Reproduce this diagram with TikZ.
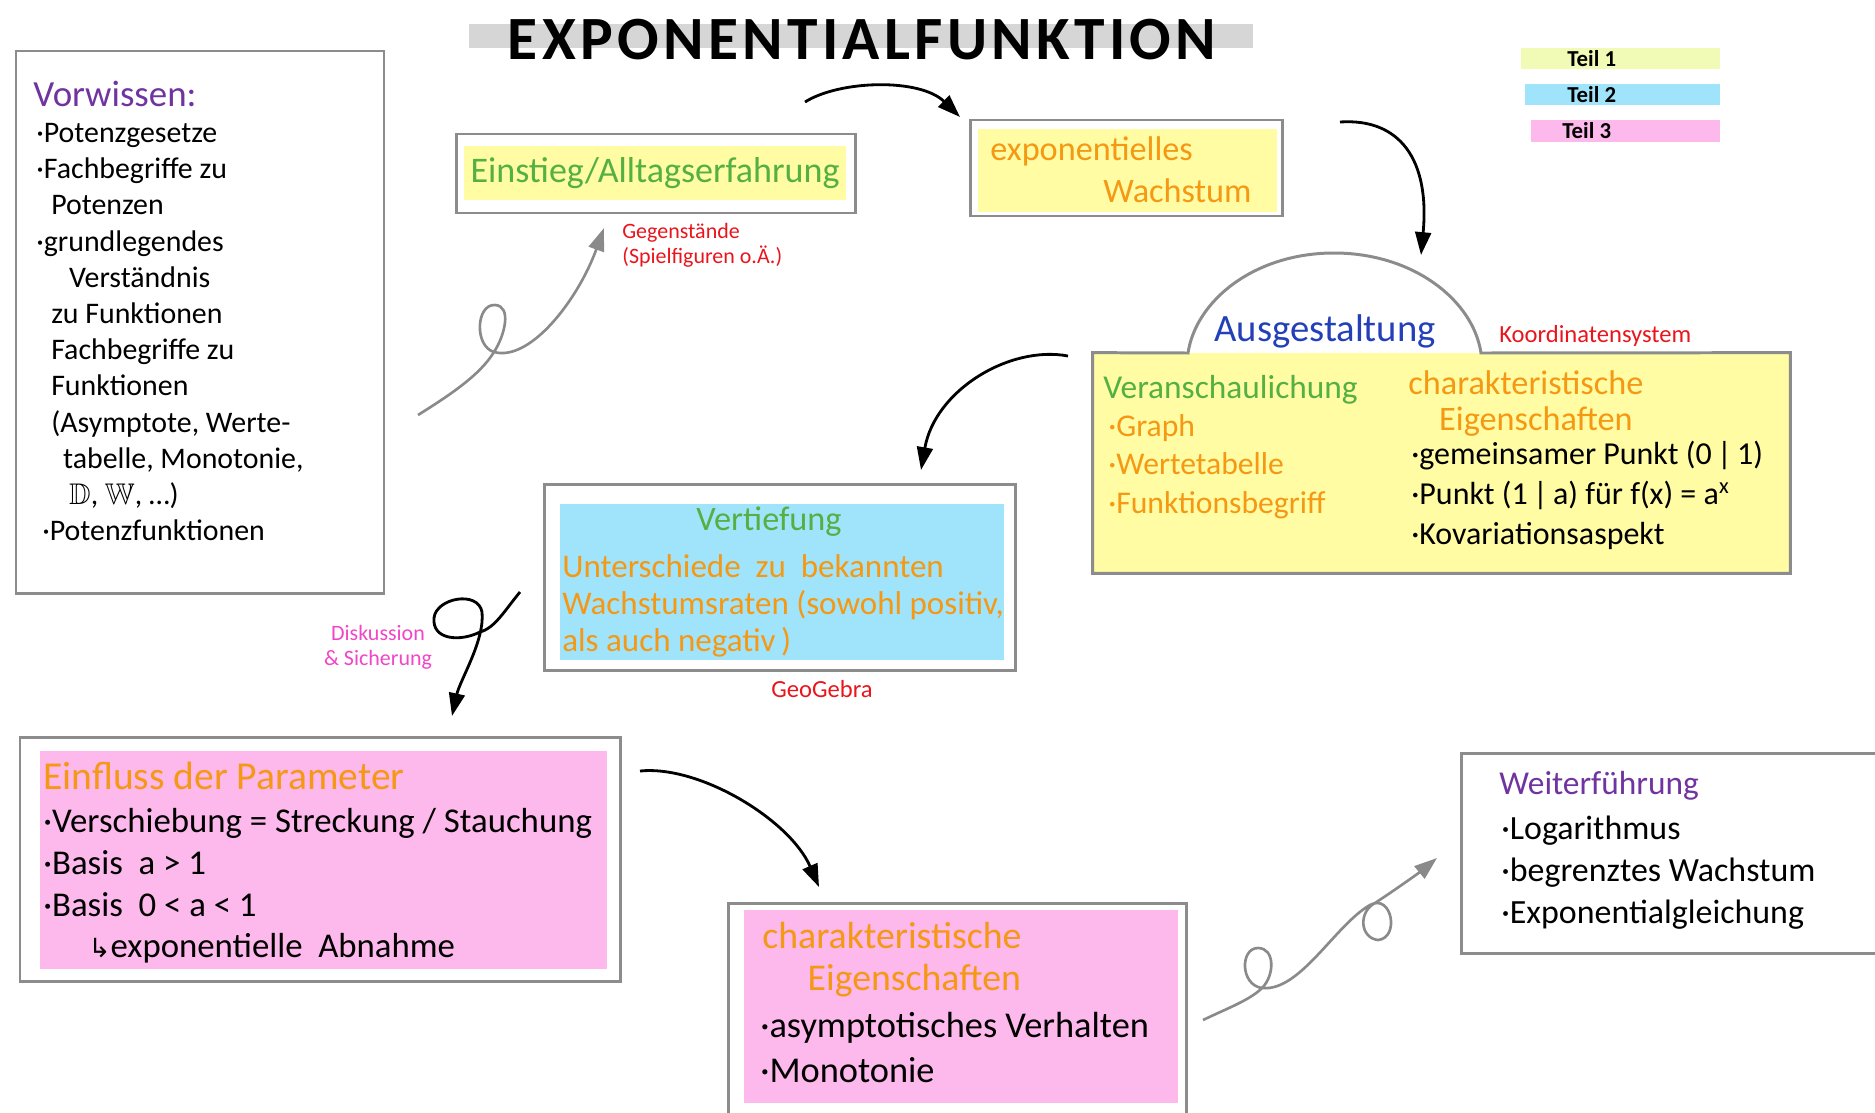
\documentclass[tikz,border=0pt]{standalone}
\usepackage{fontspec}
\usepackage{amssymb}
\setmainfont{Carlito}
\newfontfamily\arrowfont{DejaVu Sans}
\usetikzlibrary{arrows.meta, fit}

\definecolor{framegray}{RGB}{140,140,140}
\definecolor{bargray}{RGB}{214,214,214}
\definecolor{arrowgray}{RGB}{138,138,138}
\definecolor{paleyellow}{RGB}{255,252,164}
\definecolor{limeyellow}{RGB}{241,251,182}
\definecolor{paleblue}{RGB}{160,228,252}
\definecolor{palepink}{RGB}{253,184,236}
\definecolor{hworange}{RGB}{245,152,20}
\definecolor{hwgreen}{RGB}{84,176,66}
\definecolor{hwpurple}{RGB}{112,52,160}
\definecolor{hwblue}{RGB}{36,64,184}
\definecolor{hwred}{RGB}{234,20,28}
\definecolor{hwpink}{RGB}{240,70,200}

\newcommand{\fs}[2]{\fontsize{#1}{#2}\selectfont}

\begin{document}
\begin{tikzpicture}[x=0.02cm, y=-0.02cm,
    frame/.style={draw=framegray, line width=1.7pt, inner sep=0pt},
    patch/.style={inner sep=0pt},
    txt/.style={inner sep=0pt, anchor=west},
    lst/.style={inner sep=0pt, anchor=north west, align=left},
    blackarrow/.style={line width=1.6pt, -{Triangle[length=13pt, width=9pt]}},
    grayarrow/.style={draw=arrowgray, line width=1.5pt, -{Triangle[length=13pt, width=9pt]}}]
        \useasboundingbox (0,0) rectangle (1875,1112);

        % Title
        \node[patch, fill=bargray, fit={(469,24) (1253,48)}] (titlebar) {};
        \node[font=\fs{35}{40}\bfseries\addfontfeature{LetterSpace=7}] (title) at (862,40) {EXPONENTIALFUNKTION};

        % Legend
        \node[patch, fill=limeyellow, fit={(1521,48) (1720,69)}] (teilA) {};
        \node[patch, fill=paleblue, fit={(1525,84) (1720,105)}] (teilB) {};
        \node[patch, fill=palepink, fit={(1531,120) (1720,142)}] (teilC) {};
        \node[txt, font=\fs{13}{15}\bfseries] (teilAtxt) at (1567,59) {Teil 1};
        \node[txt, font=\fs{13}{15}\bfseries] (teilBtxt) at (1567,95) {Teil 2};
        \node[txt, font=\fs{13}{15}\bfseries] (teilCtxt) at (1562,131) {Teil 3};

        % Vorwissen
        \node[frame, fit={(16,51) (384,593)}] (vorwissen) {};
        \node[txt, font=\fs{21}{24}, text=hwpurple] (vorwHead) at (33,94) {Vorwissen:};
        \node[lst, font=\fs{17}{20.6}] (vorwList) at (36,123) {%
            ·Potenzgesetze\\
            ·Fachbegriffe zu\\
            \hspace*{0.5em}Potenzen\\
            ·grundlegendes\\
            \hspace*{1.1em}Verständnis\\
            \hspace*{0.5em}zu Funktionen\\
            \hspace*{0.5em}Fachbegriffe zu\\
            \hspace*{0.5em}Funktionen\\
            \hspace*{0.5em}(Asymptote, Werte-\\
            \hspace*{0.9em}tabelle, Monotonie,\\
            \hspace*{1.1em}$\mathbb{D}$, $\mathbb{W}$, \dots)\\
            \hspace*{0.2em}·Potenzfunktionen};

        % Einstieg
        \node[frame, fit={(456,134) (855,213)}] (einstieg) {};
        \node[patch, fill=paleyellow, fit={(464,146) (846,200)}] (einstiegIn) {};
        \node[font=\fs{20.5}{24}, text=hwgreen, inner sep=0pt] (einstiegTxt) at (655,173) {Einstieg/Alltagserfahrung};
        \node[lst, anchor=west, font=\fs{12.5}{14.5}, text=hwred] (gegen) at (622,245) {Gegenstände\\(Spielfiguren o.Ä.)};

        % exponentielles Wachstum
        \node[frame, fit={(970,120) (1282,216)}] (expo) {};
        \node[patch, fill=paleyellow, fit={(978,129) (1277,212)}] (expoIn) {};
        \node[lst, font=\fs{19.5}{24}, text=hworange] (expoTxt) at (990,136) {exponentielles\\\hspace*{3.3em}Wachstum};

        % Ausgestaltung
        \node[patch, fill=paleyellow, fit={(1093,353) (1790,573)}] (ausg) {};
        \draw[draw=framegray, line width=1.7pt] (ausg.north west) -- (1188,353)
            .. controls (1196,300) and (1255,253) .. (1334,253)
            .. controls (1413,253) and (1473,300) .. (1481,353)
            -- (ausg.north east) -- (ausg.south east) -- (ausg.south west) -- cycle;
        \node[font=\fs{22}{26}, text=hwblue, inner sep=0pt] (ausgHead) at (1325,331) {Ausgestaltung};
        \node[txt, font=\fs{14}{16}, text=hwred] (koord) at (1499,336) {Koordinatensystem};
        \node[txt, font=\fs{19}{22}, text=hwgreen] (veran) at (1103,390) {Veranschaulichung};
        \node[lst, font=\fs{18}{22}, text=hworange] (veranList) at (1108,414) {·Graph\\·Wertetabelle\\·Funktionsbegriff};
        \node[lst, font=\fs{19.5}{20.5}, text=hworange] (charA) at (1408,370) {charakteristische\\\hspace*{0.9em}Eigenschaften};
        \node[lst, font=\fs{18.2}{22.7}] (charAList) at (1411,441) {%
            ·gemeinsamer Punkt (0\,|\,1)\\
            ·Punkt (1\,|\,a) für f(x) = a\textsuperscript{x}\\
            ·Kovariationsaspekt};

        % Vertiefung
        \node[frame, fit={(544,484) (1015,670)}] (vert) {};
        \node[patch, fill=paleblue, fit={(560,504) (1004,660)}] (vertIn) {};
        \node[font=\fs{19.5}{22}, text=hwgreen, inner sep=0pt] (vertHead) at (769,522) {Vertiefung};
        \node[lst, font=\fs{18.8}{21}, text=hworange] (vertTxt) at (562,554) {%
            Unterschiede \ zu \ bekannten\\
            Wachstumsraten (sowohl positiv,\\
            als auch negativ\,)};
        \node[font=\fs{14}{16}, text=hwred, inner sep=0pt] (geo) at (822,689) {GeoGebra};

        % Diskussion label
        \node[font=\fs{12.5}{14}, text=hwpink, align=center, inner sep=0pt] (disk) at (378,647) {Diskussion\\\& Sicherung};

        % Einfluss der Parameter
        \node[frame, fit={(20,737) (620,981)}] (einfluss) {};
        \node[patch, fill=palepink, fit={(40,751) (607,969)}] (einflussIn) {};
        \node[txt, font=\fs{22.5}{24}, text=hworange] (einflussHead) at (43,776) {Einfluss der Parameter};
        \node[lst, font=\fs{19.8}{23.8}] (einflussList) at (43,808) {%
            ·Verschiebung = Streckung / Stauchung\\
            ·Basis\ \ a > 1\\
            ·Basis\ \ 0 < a < 1\\
            \hspace*{1.3em}{\arrowfont\fs{15}{20}↳}exponentielle\ \ Abnahme};

        % charakteristische Eigenschaften (Teil 3)
        \node[frame, fit={(728,903) (1186,1120)}] (charB) {};
        \node[patch, fill=palepink, fit={(744,910) (1178,1103)}] (charBIn) {};
        \node[lst, font=\fs{21.5}{24}, text=hworange] (charBHead) at (762,922) {charakteristische\\\hspace*{1.2em}Eigenschaften};
        \node[lst, font=\fs{20.7}{25.5}] (charBList) at (760,1012) {·asymptotisches Verhalten\\·Monotonie};

        % Weiterfuehrung
        \node[frame, fit={(1461,753) (1885,953)}] (weiter) {};
        \node[txt, font=\fs{19}{24}, text=hwpurple] (weiterHead) at (1499,786) {Weiterführung};
        \node[lst, font=\fs{19.3}{23.8}] (weiterList) at (1501,816) {%
            ·Logarithmus\\
            ·begrenztes Wachstum\\
            ·Exponentialgleichung};

        % Arrow ends
        \coordinate (vStart) at (418,415);
        \coordinate (vEnd) at (604,228);
        \coordinate (eStart) at (805,102);
        \coordinate (eEnd) at (960,117);
        \coordinate (xStart) at (1340,122);
        \coordinate (xEnd) at (1421,255);
        \coordinate (aStart) at (1068,356);
        \coordinate (aEnd) at (921,470);
        \coordinate (dStart) at (520,592);
        \coordinate (dEnd) at (452,716);
        \coordinate (pStart) at (640,771);
        \coordinate (pEnd) at (819,887);
        \coordinate (wStart) at (1203,1020);
        \coordinate (wEnd) at (1437,858);

        % Arrows
        \draw[grayarrow] (vStart) .. controls (450,395) and (480,375) .. (494,352)
            .. controls (505,335) and (512,306) .. (495,305)
            .. controls (476,304) and (474,346) .. (494,352)
            .. controls (530,362) and (578,300) .. (vEnd);
        \draw[blackarrow] (eStart) .. controls (840,80) and (920,78) .. (eEnd);
        \draw[blackarrow] (xStart) .. controls (1400,118) and (1430,160) .. (xEnd);
        \draw[blackarrow] (aStart) .. controls (1010,345) and (935,390) .. (aEnd);
        \draw[blackarrow] (dStart) .. controls (505,610) and (495,628) .. (480,632)
            .. controls (460,642) and (432,640) .. (434,618)
            .. controls (436,598) and (478,590) .. (482,612)
            .. controls (485,640) and (460,680) .. (dEnd);
        \draw[blackarrow] (pStart) .. controls (700,765) and (790,820) .. (pEnd);
        \draw[grayarrow] (wStart) .. controls (1228,1008) and (1250,1000) .. (1262,988)
            .. controls (1275,975) and (1275,948) .. (1258,948)
            .. controls (1240,948) and (1240,985) .. (1262,988)
            .. controls (1300,992) and (1335,925) .. (1370,905)
            .. controls (1392,893) and (1400,938) .. (1378,940)
            .. controls (1360,938) and (1358,912) .. (1375,903)
            .. controls (1395,890) and (1420,872) .. (wEnd);
    \end{tikzpicture}
\end{document}
